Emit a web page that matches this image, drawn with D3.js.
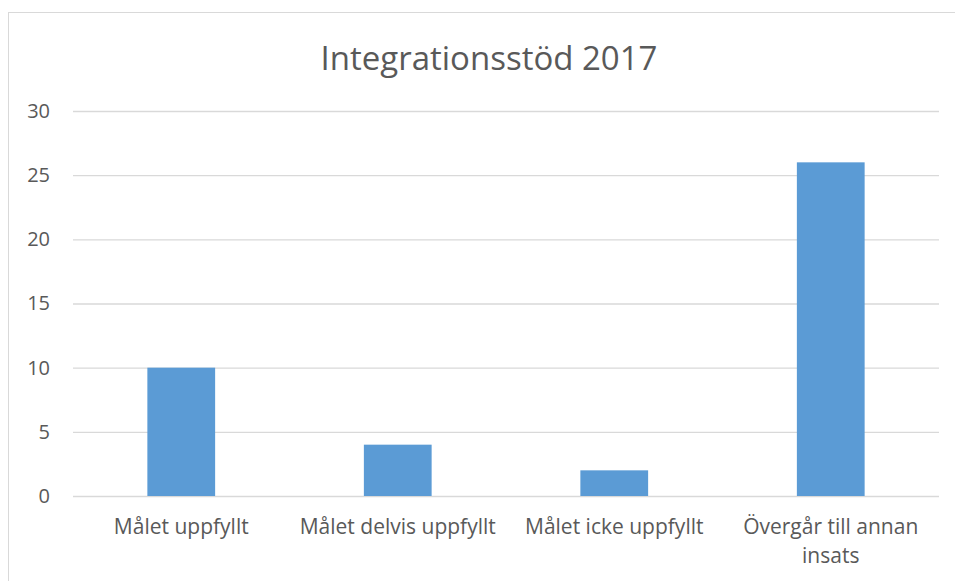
<!DOCTYPE html>
<html>
<head>
<meta charset="utf-8">
<script src="https://cdn.jsdelivr.net/npm/d3@7"></script>
<style>
  body { margin: 0; background: #fff; }
  svg text { font-family: "Open Sans", sans-serif; fill: #595959; }
</style>
</head>
<body>
<div id="chart"></div>
<script>
let width = 955;
let height = 581;
let margin = ({top: 111, right: 16, bottom: 85, left: 73});

// Chart data
let title = "Integrationsstöd 2017";
let categories = ["Målet uppfyllt", "Målet delvis uppfyllt", "Målet icke uppfyllt", "Övergår till annan insats"];
let values = [10, 4, 2, 26];
let yTicks = [0, 5, 10, 15, 20, 25, 30];

let svg = d3.select("#chart")
    .append("svg")
    .attr("width", width)
    .attr("height", height);

// Chart frame (runs off the right and bottom edges)
svg.append("rect")
    .attr("x", 8.5)
    .attr("y", 12.5)
    .attr("width", 980)
    .attr("height", 620)
    .attr("fill", "none")
    .attr("stroke", "#d9d9d9");

let xScale = d3.scaleBand()
    .domain(categories)
    .range([margin.left, width - margin.right])
    .paddingInner(0.687)
    .paddingOuter(0.3435);

let yScale = d3.scaleLinear()
    .domain([0, 30])
    .range([height - margin.bottom, margin.top]);

// Gridlines and y labels
let yAxis = d3.axisLeft(yScale)
    .tickValues(yTicks)
    .tickSize(-(width - margin.left - margin.right))
    .tickPadding(23);

svg.append("g")
    .attr("class", "y axis")
    .attr("transform", "translate(" + margin.left + ",0)")
    .call(yAxis)
    .call(g => g.select(".domain").remove())
    .call(g => g.selectAll(".tick line").attr("stroke", "#d9d9d9").attr("stroke-width", 1.3))
    .call(g => g.selectAll(".tick text")
        .attr("font-size", 20)
        .attr("fill", "#595959")
        .attr("font-family", "Open Sans, sans-serif"));

// Bars
svg.selectAll(".bar")
    .data(values)
    .enter()
    .append("rect")
    .attr("class", "bar")
    .attr("x", (d, i) => xScale(categories[i]))
    .attr("width", xScale.bandwidth())
    .attr("y", d => yScale(d))
    .attr("height", d => yScale(0) - yScale(d))
    .attr("fill", "#5b9bd5");

// Category labels, wrapped to the slot width
let step = xScale.step();
let labels = svg.selectAll(".cat")
    .data(categories)
    .enter()
    .append("text")
    .attr("class", "cat")
    .attr("text-anchor", "middle")
    .attr("font-size", 21)
    .attr("x", d => xScale(d) + xScale.bandwidth() / 2)
    .attr("y", height - margin.bottom + 38);

labels.each(function(d) {
    let text = d3.select(this);
    let x = text.attr("x");
    let words = d.split(" ");
    let line = [];
    let tspan = text.append("tspan").attr("x", x).attr("dy", 0);
    words.forEach(w => {
        line.push(w);
        tspan.text(line.join(" "));
        if (tspan.node().getComputedTextLength() > step - 8 && line.length > 1) {
            line.pop();
            tspan.text(line.join(" "));
            line = [w];
            tspan = text.append("tspan").attr("x", x).attr("dy", 29).text(w);
        }
    });
});

// Title
svg.append("text")
    .attr("x", 489)
    .attr("y", 70)
    .attr("text-anchor", "middle")
    .attr("font-size", 33)
    .text(title);
</script>
</body>
</html>
